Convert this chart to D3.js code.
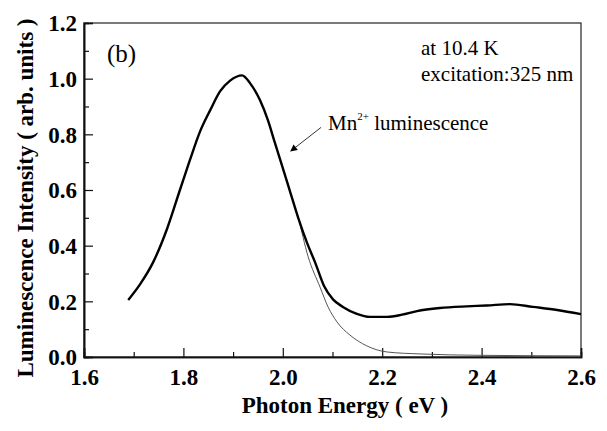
<!DOCTYPE html>
<html>
<head>
<meta charset="utf-8">
<script src="https://cdn.jsdelivr.net/npm/d3@7"></script>
<style>
  body { margin: 0; background: #fff; }
  svg { display: block; font-family: 'Liberation Serif', 'Times New Roman', serif; }
</style>
</head>
<body>
<svg></svg>
<script>
// measured spectrum (thick black trace)
const mainEnergy = [1.689, 1.713, 1.739, 1.767, 1.793, 1.813, 1.833, 1.854, 1.874, 1.894, 1.918, 1.934, 1.954, 1.970, 1.984, 1.998, 2.014, 2.031, 2.049, 2.065, 2.083, 2.101, 2.121, 2.149, 2.175, 2.21, 2.24, 2.27, 2.316, 2.37, 2.41, 2.457, 2.503, 2.552, 2.6];
const mainIntensity = [0.205, 0.262, 0.34, 0.46, 0.6, 0.707, 0.808, 0.887, 0.955, 0.993, 1.012, 0.984, 0.923, 0.851, 0.77, 0.69, 0.598, 0.50, 0.409, 0.34, 0.255, 0.207, 0.18, 0.155, 0.144, 0.144, 0.152, 0.165, 0.176, 0.182, 0.185, 0.19, 0.18, 0.169, 0.154];

// Mn2+ band (thin grey trace)
const fitEnergy = [1.970, 1.998, 2.014, 2.031, 2.051, 2.075, 2.091, 2.109, 2.135, 2.169, 2.21, 2.276, 2.4, 2.6];
const fitIntensity = [0.851, 0.69, 0.598, 0.50, 0.36, 0.251, 0.18, 0.126, 0.079, 0.04, 0.018, 0.011, 0.006, 0.004];

const xTicks = [1.6, 1.8, 2.0, 2.2, 2.4, 2.6];
const yTicks = [0.0, 0.2, 0.4, 0.6, 0.8, 1.0, 1.2];

const width = 607;
const height = 431;
const margin = { left: 84, right: 26, top: 23, bottom: 74 };

const svg = d3.select('svg').attr('width', width).attr('height', height);

const xScale = d3.scaleLinear().domain([1.6, 2.6]).range([margin.left, width - margin.right]);
const yScale = d3.scaleLinear().domain([0, 1.2]).range([height - margin.bottom, margin.top]);

// frame
svg.append('rect')
  .attr('x', xScale(1.6))
  .attr('y', yScale(1.2))
  .attr('width', xScale(2.6) - xScale(1.6))
  .attr('height', yScale(0) - yScale(1.2))
  .attr('fill', 'none')
  .attr('stroke', '#333')
  .attr('stroke-width', 1.3);

// axes, ticks pointing inward
const xMinor = d3.range(1.7, 2.6, 0.2);
const yMinor = d3.range(0.1, 1.2, 0.2);

const styleAxis = (g) => {
  g.select('.domain').attr('stroke', '#111').attr('stroke-width', 1.6);
  g.selectAll('.tick line').attr('stroke', '#111').attr('stroke-width', 1.2);
};

svg.append('g')
  .attr('transform', 'translate(0,' + yScale(0) + ')')
  .call(d3.axisBottom(xScale).tickValues(xMinor).tickSize(-5).tickFormat(''))
  .call(styleAxis);

const xAxisG = svg.append('g')
  .attr('transform', 'translate(0,' + yScale(0) + ')')
  .call(d3.axisBottom(xScale).tickValues(xTicks).tickSize(-9).tickFormat(d3.format('.1f')))
  .call(styleAxis);
xAxisG.selectAll('.tick text')
  .attr('y', 28)
  .attr('dy', 0)
  .attr('fill', '#000')
  .style('font-family', "'Liberation Serif', serif")
  .style('font-weight', 'bold')
  .style('font-size', '23px');

svg.append('g')
  .attr('transform', 'translate(' + xScale(1.6) + ',0)')
  .call(d3.axisLeft(yScale).tickValues(yMinor).tickSize(-5).tickFormat(''))
  .call(styleAxis);

const yAxisG = svg.append('g')
  .attr('transform', 'translate(' + xScale(1.6) + ',0)')
  .call(d3.axisLeft(yScale).tickValues(yTicks).tickSize(-9).tickFormat(d3.format('.1f')))
  .call(styleAxis);
yAxisG.selectAll('.tick text')
  .attr('x', -7)
  .attr('dy', '0.34em')
  .attr('fill', '#000')
  .style('font-family', "'Liberation Serif', serif")
  .style('font-weight', 'bold')
  .style('font-size', '23px');

// curves
const fitData = fitEnergy.map((e, i) => [e, fitIntensity[i]]);
const mainData = mainEnergy.map((e, i) => [e, mainIntensity[i]]);

const line = d3.line()
  .x((d) => xScale(d[0]))
  .y((d) => yScale(d[1]))
  .curve(d3.curveMonotoneX);

svg.append('path')
  .datum(fitData)
  .attr('d', line)
  .attr('fill', 'none')
  .attr('stroke', '#555')
  .attr('stroke-width', 1);

svg.append('path')
  .datum(mainData)
  .attr('d', line)
  .attr('fill', 'none')
  .attr('stroke', '#000')
  .attr('stroke-width', 2.4);

// axis titles
svg.append('text')
  .attr('x', xScale(2.125))
  .attr('y', 413)
  .attr('text-anchor', 'middle')
  .style('font-weight', 'bold')
  .style('font-size', '23px')
  .text('Photon Energy ( eV )');

svg.append('text')
  .attr('transform', 'translate(33,' + 198 + ') rotate(-90)')
  .attr('text-anchor', 'middle')
  .style('font-weight', 'bold')
  .style('font-size', '23px')
  .text('Luminescence Intensity ( arb. units )');

// annotations
svg.append('text')
  .attr('x', 107)
  .attr('y', 62)
  .style('font-size', '25px')
  .text('(b)');

svg.append('text')
  .attr('x', 421)
  .attr('y', 55)
  .style('font-size', '21px')
  .text('at 10.4 K');

svg.append('text')
  .attr('x', 421)
  .attr('y', 81)
  .style('font-size', '21px')
  .text('excitation:325 nm');

const mnLabel = svg.append('text')
  .attr('x', 328)
  .attr('y', 130)
  .style('font-size', '21px');
mnLabel.append('tspan').text('Mn');
mnLabel.append('tspan').attr('dy', -10).style('font-size', '11px').text('2+');
mnLabel.append('tspan').attr('dy', 10).text(' luminescence');

// arrow to the curve
svg.append('defs').append('marker')
  .attr('id', 'arrow')
  .attr('viewBox', '0 0 10 10')
  .attr('refX', 9)
  .attr('refY', 5)
  .attr('markerWidth', 10)
  .attr('markerHeight', 7)
  .attr('markerUnits', 'userSpaceOnUse')
  .attr('orient', 'auto')
  .append('path')
  .attr('d', 'M0,0 L10,5 L0,10 z')
  .attr('fill', '#000');

svg.append('line')
  .attr('x1', xScale(2.077))
  .attr('y1', yScale(0.825))
  .attr('x2', xScale(2.016))
  .attr('y2', yScale(0.74))
  .attr('stroke', '#000')
  .attr('stroke-width', 0.8)
  .attr('marker-end', 'url(#arrow)');
</script>
</body>
</html>
